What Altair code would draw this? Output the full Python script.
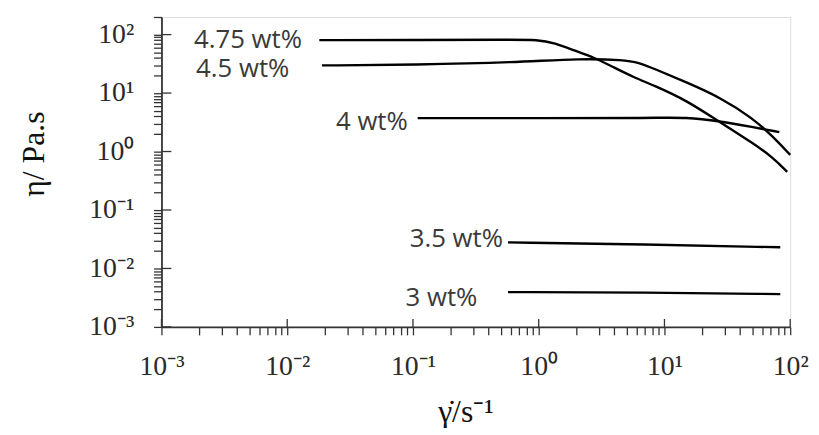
import altair as alt
import pandas as pd

# ---- data ----
s475_x = [0.018, 0.1, 0.6, 0.98, 1.34, 1.92, 2.76, 3.96, 5.70, 8.18, 14.9, 27.6, 50.2, 72.1, 94.6]
s475_y = [80.5, 81.0, 81.5, 82.0, 72.0, 53.5, 40.6, 27.5, 18.6, 13.6, 7.55, 3.18, 1.40, 0.81, 0.45]

s45_x = [0.0189, 0.106, 0.647, 2.18, 4.75, 6.24, 8.18, 14.9, 27.6, 50.2, 72.1, 100]
s45_y = [29.7, 30.5, 33.4, 39.1, 36.8, 33.4, 26.4, 15.3, 8.49, 3.73, 1.84, 0.875]

s4_x = [0.109, 1.0, 8.18, 14.9, 27.6, 50.2, 81.9]
s4_y = [3.73, 3.73, 3.73, 3.87, 3.31, 2.62, 2.15]

s35_x = [0.57, 6.84, 83.4]
s35_y = [0.0279, 0.0258, 0.0230]

s3_x = [0.57, 6.84, 83.4]
s3_y = [0.00394, 0.0039, 0.00364]

labels = ["4.75 wt%", "4.5 wt%", "4 wt%", "3.5 wt%", "3 wt%"]
label_x = [0.0131, 0.0104, 0.091, 0.52, 0.325]
label_y = [82, 25.4, 3.2, 0.0314, 0.00311]

decades = [0.001, 0.01, 0.1, 1, 10, 100]
decade_text = ["10⁻³", "10⁻²", "10⁻¹", "10⁰", "10¹", "10²"]

x_minor = [round(k * 10.0 ** d, 6) for d in range(-3, 2) for k in range(2, 10)]
y_minor = x_minor + [200]

# ---- build tables ----
rows = []
for name, xs, ys in [("4.75 wt%", s475_x, s475_y), ("4.5 wt%", s45_x, s45_y),
                     ("4 wt%", s4_x, s4_y), ("3.5 wt%", s35_x, s35_y),
                     ("3 wt%", s3_x, s3_y)]:
    for i, (xv, yv) in enumerate(zip(xs, ys)):
        rows.append({"series": name, "x": xv, "y": yv, "order": i})
df = pd.DataFrame(rows)
lab_df = pd.DataFrame({"label": labels, "x": label_x, "y": label_y})
dec_df = pd.DataFrame({"v": decades})

label_expr = " : ".join(
    f"datum.value == {v} ? '{t}'" for v, t in zip(decades, decade_text)
) + " : ''"

W, H = 635, 313
xscale = alt.Scale(type="log", domain=[0.001, 100], nice=False)
yscale = alt.Scale(type="log", domain=[0.001, 200], nice=False)

axis_common = dict(
    grid=False, labelExpr=label_expr, labelFont="Liberation Serif",
    labelFontSize=28, labelColor="#2a2a2a", labelOverlap=False, labelBound=False,
    labelFlush=False, tickColor="#333", tickWidth=1.3, tickSize=8,
    domainColor="#333", domainWidth=1.8, titleFont="Liberation Serif",
    titleFontSize=32, titleFontWeight="normal", titleColor="#111",
)

x_axis = alt.Axis(values=decades + x_minor, labelPadding=18,
                  title="γ̇/s⁻¹", titleX=307, titleY=86,
                  titleBaseline="middle", titleAlign="center", **axis_common)
y_axis = alt.Axis(values=decades + y_minor, labelPadding=20,
                  title="η/ Pa.s", titleX=-129, titleY=138, titleAngle=-90,
                  titleBaseline="middle", titleAlign="center", **axis_common)

lines = alt.Chart(df).mark_line(color="black", strokeWidth=2.4, interpolate="basis").encode(
    x=alt.X("x:Q", scale=xscale, axis=x_axis),
    y=alt.Y("y:Q", scale=yscale, axis=y_axis),
    detail="series:N",
    order="order:Q",
)

texts = alt.Chart(lab_df).mark_text(
    align="right", baseline="middle", font="Open Sans", fontSize=26, color="#3a3a3a"
).encode(
    x=alt.X("x:Q", scale=xscale),
    y=alt.Y("y:Q", scale=yscale),
    text="label:N",
)

# inward parts of the major ticks
ytick_in = alt.Chart(dec_df).mark_rule(color="#333", strokeWidth=1.3).encode(
    y=alt.Y("v:Q", scale=yscale), x=alt.value(0), x2=alt.value(10)
)
xtick_in = alt.Chart(dec_df).mark_rule(color="#333", strokeWidth=1.3).encode(
    x=alt.X("v:Q", scale=xscale), y=alt.value(H), y2=alt.value(H - 8)
)

chart = alt.layer(lines, texts, ytick_in, xtick_in).properties(
    width=W, height=H,
    autosize=alt.AutoSizeParams(type="none"),
    padding={"left": 155, "top": 7, "right": 21, "bottom": 100},
).configure_view(stroke=None).configure(background="white")

chart.save("out.html", embed_options={"renderer": "svg", "actions": False})
